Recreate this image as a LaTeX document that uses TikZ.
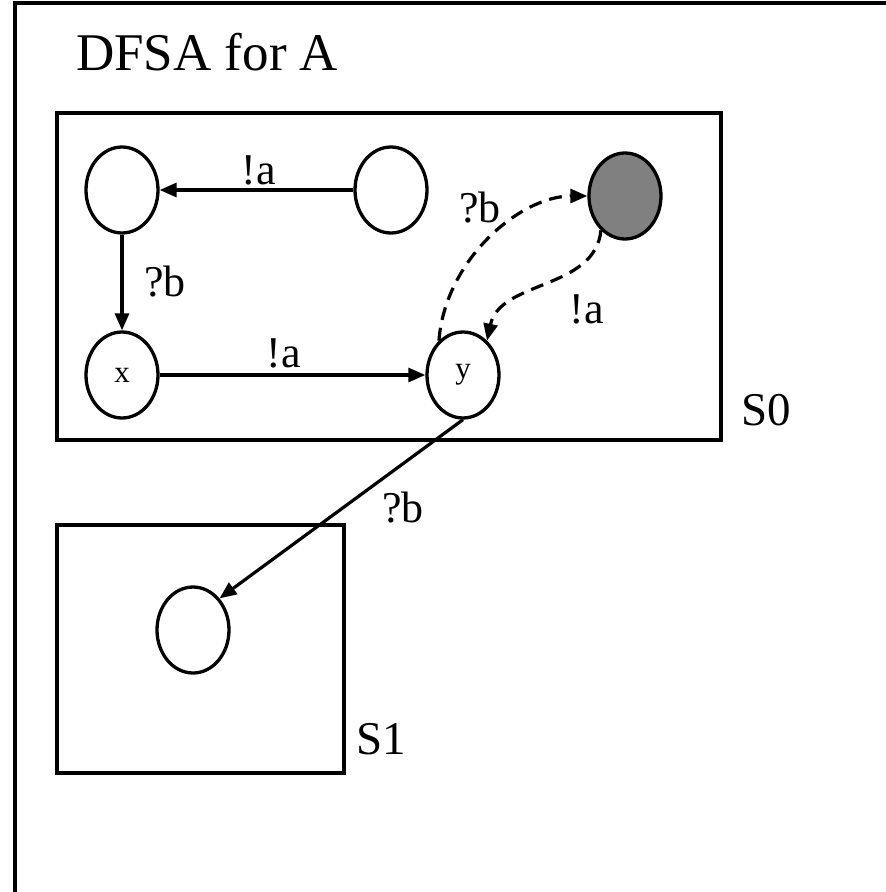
\documentclass[tikz,border=0pt]{standalone}
\usepackage{fontspec}
\setmainfont{Liberation Serif}
\usetikzlibrary{shapes.geometric,arrows.meta}
\tikzset{
  st/.style={ellipse,draw,line width=3.3pt,minimum width=72pt,minimum height=86pt,inner sep=0pt},
  ed/.style={line width=3.2pt,-{Triangle[length=17pt,width=14pt]}},
  dsh/.style={ed,dash pattern=on 13pt off 8pt},
  lbl/.style={inner sep=0pt,font=\fontsize{44}{44}\selectfont},
  box/.style={draw,line width=3.6pt},
}
\begin{document}
\begin{tikzpicture}[x=1pt,y=-1pt]
\useasboundingbox (0,0) rectangle (886,892);
\draw[line width=3.6pt] (15,900) -- (15,3) -- (900,3);
\node[inner sep=0pt,anchor=base west,font=\fontsize{53}{53}\selectfont] (title) at (76,70) {DFSA for A};
\draw[box] (57,113) rectangle (721,440);
\draw[box] (57,525) rectangle (344,773);
\node[lbl,font=\fontsize{47}{47}\selectfont] (s0) at (766,410) {S0};
\node[lbl,font=\fontsize{47}{47}\selectfont] (s1) at (381,739) {S1};
\node[st] (tl) at (122,190) {};
\node[st] (tm) at (391,190) {};
\node[st,fill={rgb,255:red,128;green,128;blue,128}] (g) at (625,196) {};
\node[st,font=\fontsize{31}{31}\selectfont] (x) at (122,375) {x};
\node[st,font=\fontsize{31}{31}\selectfont] (y) at (463,375) {y};
\node[st] (c) at (193,630) {};
\draw[ed] (tm) -- (tl);
\draw[ed] (tl) -- (x);
\draw[ed] (x) -- (y);
\draw[ed] (y.south) -- (c.50);
\draw[dsh] (y.125) .. controls (445,260) and (520,196) .. (g.west);
\draw[dsh] (g.235) .. controls (595,290) and (500,280) .. (y.55);
\node[lbl] (l1) at (259,170) {!a};
\node[lbl] (l2) at (165,282) {?b};
\node[lbl] (l3) at (284,353) {!a};
\node[lbl] (l4) at (480,208) {?b};
\node[lbl] (l5) at (587,309) {!a};
\node[lbl] (l6) at (403,508) {?b};
\end{tikzpicture}
\end{document}
